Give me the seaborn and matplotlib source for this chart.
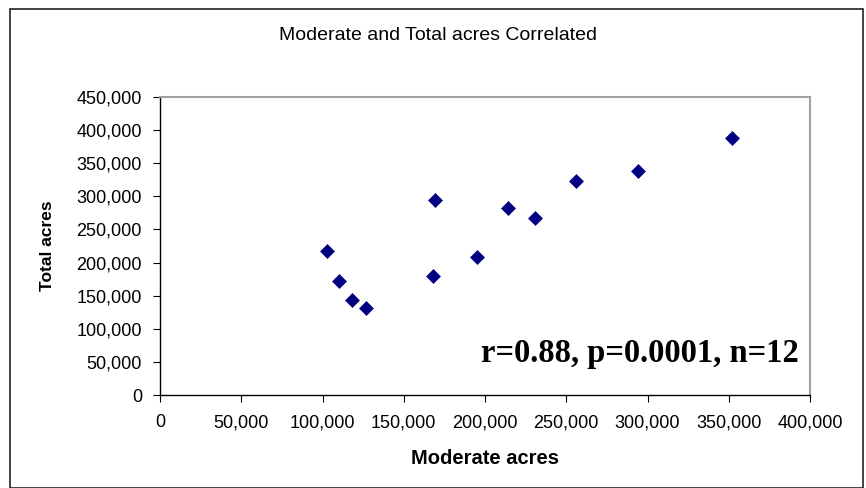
import matplotlib
matplotlib.use("Agg")
import matplotlib.pyplot as plt
import seaborn as sns
import pandas as pd
from matplotlib.ticker import StrMethodFormatter, MultipleLocator
from matplotlib.patches import Rectangle

moderate_acres = [103000, 110000, 118000, 127000, 168000, 169000, 195000,
                  214000, 231000, 256000, 294000, 352000]
total_acres = [218000, 172000, 144000, 131000, 180000, 295000, 208000,
               282000, 267000, 323000, 339000, 388000]
title = "Moderate and Total acres Correlated"
x_label = "Moderate acres"
y_label = "Total acres"
annotation = "r=0.88, p=0.0001, n=12"

df = pd.DataFrame({"Moderate acres": moderate_acres, "Total acres": total_acres})

sns.set_theme(style="white")
plt.rcParams["font.family"] = ["Liberation Sans", "DejaVu Sans"]
plt.rcParams["text.color"] = "black"

fig = plt.figure(figsize=(8.66, 4.88), dpi=100)
W, H = 866, 488
ax = fig.add_axes([160 / W, 1 - 395 / H, (810 - 160) / W, (395 - 97) / H])

sns.scatterplot(data=df, x="Moderate acres", y="Total acres", ax=ax,
                marker="D", color="#000080", s=50, edgecolor="#000080",
                linewidth=0.5, zorder=3)

ax.set_xlim(0, 400000)
ax.set_ylim(0, 450000)
ax.xaxis.set_major_locator(MultipleLocator(50000))
ax.yaxis.set_major_locator(MultipleLocator(50000))
ax.xaxis.set_major_formatter(StrMethodFormatter("{x:,.0f}"))
ax.yaxis.set_major_formatter(StrMethodFormatter("{x:,.0f}"))
ax.tick_params(axis="both", which="major", direction="out", length=5, width=0.8,
               color="black", labelsize=13, labelcolor="black",
               bottom=True, left=True)
ax.tick_params(axis="y", pad=8)
ax.tick_params(axis="x", pad=9)

for side in ["left", "bottom"]:
    ax.spines[side].set_color("black")
    ax.spines[side].set_linewidth(1.0)
for side in ["top", "right"]:
    ax.spines[side].set_color("#a0a0a0")
    ax.spines[side].set_linewidth(1.5)

ax.set_xlabel("")
ax.set_ylabel("")
fig.text(485 / W, 1 - 458 / H, x_label, ha="center", va="center",
         fontsize=14.5, fontweight="bold", color="black")
fig.text(48 / W, 1 - 246 / H, y_label, ha="center", va="center",
         fontsize=12.5, fontweight="bold", rotation=90, color="black")
fig.text(438 / W, 1 - 35 / H, title, ha="center", va="center", fontsize=14,
         color="black")

ax.text(0.982, 0.11, annotation, transform=ax.transAxes, ha="right",
        va="baseline", fontsize=23.5, fontweight="bold", color="black",
        family=["Liberation Serif", "DejaVu Serif"])

fig.patches.append(Rectangle((10 / W, 0), (863 - 10) / W, 1 - 9 / H,
                             transform=fig.transFigure, fill=False,
                             edgecolor="#222222", linewidth=1.2))

fig.savefig("out.png", dpi=100, facecolor="white")
